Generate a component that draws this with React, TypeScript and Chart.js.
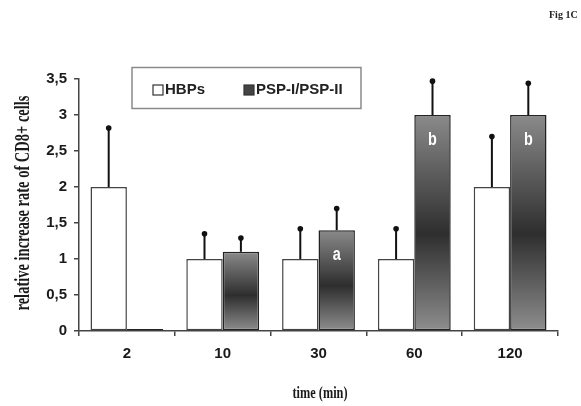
import React, { useEffect, useRef } from "react";
import { Chart, registerables } from "chart.js";

Chart.register(...registerables);

const categories = ["2", "10", "30", "60", "120"];
const seriesLabels = ["HBPs", "PSP-I/PSP-II"];
const hbpValues = [2, 1, 1, 1, 2];
const hbpErrors = [0.82, 0.35, 0.42, 0.42, 0.7];
const pspValues = [0, 1.1, 1.4, 3.0, 3.0];
const pspErrors: (number | null)[] = [null, 0.19, 0.3, 0.47, 0.44];
const pspLetters = ["", "", "a", "b", "b"];
const yMin = 0;
const yMax = 3.5;
const yStep = 0.5;
const yTitle = "relative increase rate of CD8+ cells";
const xTitle = "time (min)";
const figLabel = "Fig 1C";

const errors = [hbpErrors, pspErrors];

const W = 581;
const H = 406;

function pspGradient(ctx: any) {
  const chart = ctx.chart;
  if (!chart.chartArea || ctx.type !== "data") return "#555555";
  const ys = chart.scales.y;
  const v = pspValues[ctx.dataIndex];
  const top = ys.getPixelForValue(v);
  const base = ys.getPixelForValue(0);
  if (base - top < 3) return "#666666";
  const g = chart.ctx.createLinearGradient(0, top, 0, base);
  g.addColorStop(0, "#8a8a8a");
  g.addColorStop(0.55, "#2e2e2e");
  g.addColorStop(1, "#8e8e8e");
  return g;
}

const overlayPlugin = {
  id: "overlay",
  afterDatasetsDraw(chart: any) {
    const ctx = chart.ctx;
    const ys = chart.scales.y;
    chart.data.datasets.forEach((ds: any, di: number) => {
      const meta = chart.getDatasetMeta(di);
      meta.data.forEach((el: any, j: number) => {
        const e = errors[di][j];
        if (e === null || e === undefined) return;
        const v = ds.data[j];
        const y0 = ys.getPixelForValue(v);
        const y1 = ys.getPixelForValue(v + e);
        ctx.save();
        ctx.strokeStyle = "#111111";
        ctx.lineWidth = 2;
        ctx.beginPath();
        ctx.moveTo(el.x, y0);
        ctx.lineTo(el.x, y1);
        ctx.stroke();
        ctx.fillStyle = "#111111";
        ctx.beginPath();
        ctx.arc(el.x, y1, 2.8, 0, Math.PI * 2);
        ctx.fill();
        ctx.restore();
      });
    });
    const meta1 = chart.getDatasetMeta(1);
    meta1.data.forEach((el: any, j: number) => {
      const t = pspLetters[j];
      if (!t) return;
      const top = ys.getPixelForValue(pspValues[j]);
      ctx.save();
      ctx.translate(el.x, top + 25);
      ctx.scale(0.8, 1);
      ctx.fillStyle = "#ffffff";
      ctx.font = 'bold 18px "Liberation Sans", Arial, sans-serif';
      ctx.textAlign = "center";
      ctx.textBaseline = "middle";
      ctx.fillText(t, 0, 0);
      ctx.restore();
    });
  },
  afterDraw(chart: any) {
    const ctx = chart.ctx;
    ctx.save();
    ctx.strokeStyle = "#8a8a8a";
    ctx.lineWidth = 1.5;
    ctx.strokeRect(132, 67.5, 229, 41);
    ctx.fillStyle = "#ffffff";
    ctx.strokeStyle = "#333333";
    ctx.lineWidth = 1.2;
    ctx.fillRect(153, 85, 10, 10);
    ctx.strokeRect(153, 85, 10, 10);
    ctx.fillStyle = "#444444";
    ctx.fillRect(244, 85, 10, 10);
    ctx.strokeRect(244, 85, 10, 10);
    ctx.fillStyle = "#222222";
    ctx.font = 'bold 15px "Liberation Sans", Arial, sans-serif';
    ctx.textAlign = "left";
    ctx.textBaseline = "middle";
    ctx.fillText(seriesLabels[0], 165, 90);
    ctx.fillText(seriesLabels[1], 256, 90);
    ctx.restore();

    ctx.save();
    ctx.translate(24, 203);
    ctx.rotate(-Math.PI / 2);
    ctx.font = 'bold 21px "Liberation Serif", "Times New Roman", serif';
    const w = ctx.measureText(yTitle).width;
    ctx.scale(215 / w, 1);
    ctx.fillStyle = "#1a1a1a";
    ctx.textAlign = "center";
    ctx.textBaseline = "middle";
    ctx.fillText(yTitle, 0, 0);
    ctx.restore();

    ctx.save();
    ctx.translate(320, 394);
    ctx.font = 'bold 16px "Liberation Serif", "Times New Roman", serif';
    const wx = ctx.measureText(xTitle).width;
    ctx.scale(55 / wx, 1);
    ctx.fillStyle = "#1a1a1a";
    ctx.textAlign = "center";
    ctx.textBaseline = "middle";
    ctx.fillText(xTitle, 0, 0);
    ctx.restore();

    ctx.save();
    ctx.font = 'bold 10px "Liberation Serif", "Times New Roman", serif';
    ctx.fillStyle = "#222222";
    ctx.textAlign = "left";
    ctx.textBaseline = "middle";
    ctx.fillText(figLabel, 549, 15);
    ctx.restore();
  },
};

export default function App() {
  const ref = useRef<HTMLCanvasElement | null>(null);

  useEffect(() => {
    if (!ref.current) return;
    const chart = new Chart(ref.current, {
      type: "bar",
      data: {
        labels: categories,
        datasets: [
          {
            label: seriesLabels[0],
            data: hbpValues,
            backgroundColor: "#ffffff",
            borderColor: "#444444",
            borderWidth: 1.5,
            borderSkipped: false,
          },
          {
            label: seriesLabels[1],
            data: pspValues,
            backgroundColor: pspGradient as any,
            borderColor: "#222222",
            borderWidth: 1.5,
            borderSkipped: false,
            minBarLength: 2,
          },
        ],
      },
      options: {
        responsive: false,
        animation: false,
        layout: { padding: { left: 0, top: 79, right: 23, bottom: 0 } },
        datasets: {
          bar: { categoryPercentage: 0.76, barPercentage: 1 },
        },
        plugins: {
          legend: { display: false },
          tooltip: { enabled: false },
        },
        scales: {
          x: {
            grid: {
              display: true,
              drawOnChartArea: false,
              drawTicks: true,
              tickLength: 5,
              color: "#444444",
              lineWidth: 1.5,
              offset: true,
            },
            border: { display: true, color: "#444444", width: 1.5 },
            ticks: {
              color: "#1a1a1a",
              padding: 9,
              font: { family: '"Liberation Sans", Arial, sans-serif', size: 15, weight: "bold" },
            },
            afterFit: (scale: any) => {
              scale.height = 75;
            },
          },
          y: {
            min: yMin,
            max: yMax,
            ticks: {
              stepSize: yStep,
              color: "#1a1a1a",
              padding: 7,
              font: { family: '"Liberation Sans", Arial, sans-serif', size: 15, weight: "bold" },
              callback: (v: any) => String(Number(v)).replace(".", ","),
            },
            grid: {
              display: true,
              drawOnChartArea: false,
              drawTicks: true,
              tickLength: 5,
              color: "#444444",
              lineWidth: 1.5,
            },
            border: { display: true, color: "#444444", width: 1.5 },
            afterFit: (scale: any) => {
              scale.width = 79;
            },
          },
        },
      },
      plugins: [overlayPlugin],
    });
    return () => chart.destroy();
  }, []);

  return (
    <div style={{ position: "absolute", left: 0, top: 0, width: W, height: H, background: "#ffffff" }}>
      <canvas ref={ref} width={W} height={H} style={{ width: W, height: H }} />
    </div>
  );
}
